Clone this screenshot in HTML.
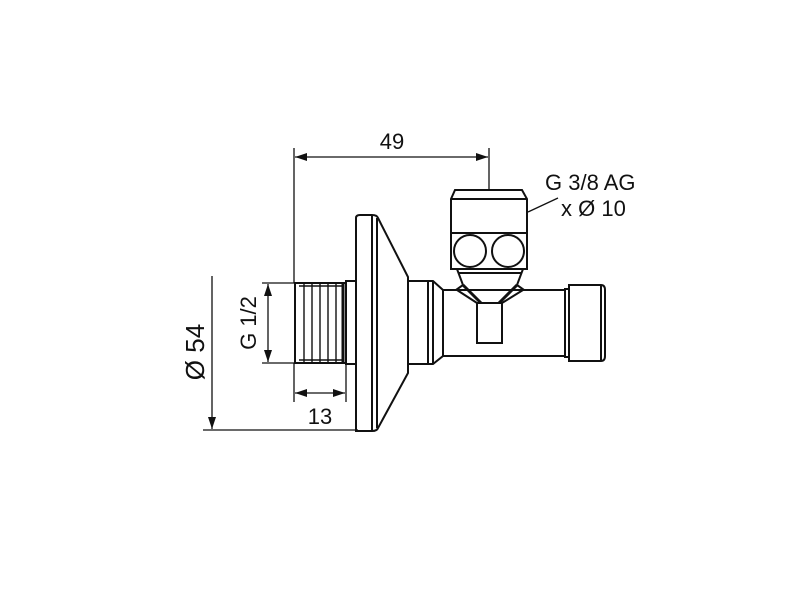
<!DOCTYPE html>
<html><head><meta charset="utf-8"><style>html,body{margin:0;padding:0;background:#fff}</style></head>
<body>
<svg width="791" height="600" viewBox="0 0 791 600" xmlns="http://www.w3.org/2000/svg">
<defs>
<marker id="a" viewBox="0 0 12 8" refX="12" refY="4" markerWidth="12" markerHeight="8" orient="auto-start-reverse" markerUnits="userSpaceOnUse"><path d="M0,0 L12,4 L0,8 z" fill="#111"/></marker>
</defs>
<g fill="none" stroke="#111" stroke-width="1.3">
<line x1="294" y1="148" x2="294" y2="283"/>
<line x1="489" y1="148" x2="489" y2="191"/>
<line x1="295" y1="157" x2="488" y2="157" marker-start="url(#a)" marker-end="url(#a)"/>
<line x1="212" y1="276" x2="212" y2="429" marker-end="url(#a)"/>
<line x1="203" y1="430" x2="358" y2="430"/>
<line x1="262" y1="283" x2="295" y2="283"/>
<line x1="262" y1="363" x2="295" y2="363"/>
<line x1="268" y1="284" x2="268" y2="362" marker-start="url(#a)" marker-end="url(#a)"/>
<line x1="294" y1="363" x2="294" y2="402"/>
<line x1="346" y1="364" x2="346" y2="402"/>
<line x1="295" y1="393" x2="345" y2="393" marker-start="url(#a)" marker-end="url(#a)"/>
<line x1="528" y1="212" x2="558" y2="198"/>
</g>
<g fill="none" stroke="#111" stroke-width="2">
<rect x="295" y="283" width="51" height="80"/>
<g stroke-width="1.4">
<line x1="304" y1="284" x2="304" y2="362"/><line x1="312" y1="284" x2="312" y2="362"/>
<line x1="320" y1="284" x2="320" y2="362"/><line x1="328" y1="284" x2="328" y2="362"/>
<line x1="336" y1="284" x2="336" y2="362"/><line x1="299" y1="286" x2="342" y2="286"/><line x1="299" y1="360" x2="342" y2="360"/>
</g>
<line x1="343" y1="284" x2="343" y2="362" stroke-width="3"/>
<rect x="346" y="281" width="10" height="83"/>
<path d="M356,218 Q356,215 360,215 L372,215 Q377,215 378,218 L408,277 L408,373 L378,428 Q377,431 372,431 L356,431 Z"/>
<line x1="372" y1="216" x2="372" y2="430"/>
<line x1="377" y1="218" x2="377" y2="428"/>
<rect x="408" y="281" width="20" height="83"/>
<path d="M428,281 L433,281 L443,290 L443,356 L433,364 L428,364"/>
<line x1="433" y1="281" x2="433" y2="364"/>
<rect x="443" y="290" width="122" height="66"/>
<rect x="565" y="289" width="4" height="68"/>
<path d="M569,285 L601,285 Q605,285 605,290 L605,356 Q605,361 601,361 L569,361 Z"/>
<line x1="601" y1="286" x2="601" y2="360"/>
<rect x="477" y="303" width="25" height="40"/>
<!-- neck -->
<path d="M457,269 L463,285 L456,290 M457,269 L523,269 M523,269 L517,285 L524,290"/>
<line x1="459" y1="273" x2="521" y2="273"/>
<path d="M463,285 L481,303 M517,285 L499,303" stroke-width="3"/>
<path d="M457,290 L477,303 M523,290 L502,303"/>
<rect x="451" y="233" width="76" height="36"/>
<circle cx="470" cy="251" r="16"/>
<circle cx="508" cy="251" r="16"/>
<path d="M451,233 L451,199 L455,190 L522,190 L527,199 L527,233"/>
<line x1="451" y1="199" x2="527" y2="199"/>
</g>
<g font-family="'Liberation Sans', 'DejaVu Sans', sans-serif" font-size="22" fill="#111">
<text x="392" y="149" text-anchor="middle">49</text>
<text x="320" y="424" text-anchor="middle">13</text>
<text x="545" y="190">G 3/8 AG</text>
<text x="561" y="216">x Ø 10</text>
<text transform="translate(204,352) rotate(-90)" text-anchor="middle" font-size="26">Ø 54</text>
<text transform="translate(256,323) rotate(-90)" text-anchor="middle">G 1/2</text>
</g>
</svg>
</body></html>
